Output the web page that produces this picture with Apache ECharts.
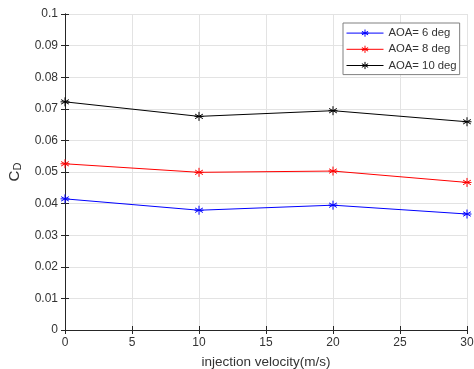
<!DOCTYPE html>
<html><head><meta charset="utf-8">
<script src="https://cdn.jsdelivr.net/npm/echarts@6/dist/echarts.min.js"></script>
<style>html,body{margin:0;padding:0;background:#fff}#c{width:474px;height:369px}</style>
</head><body><div id="c"></div>
<script>
const xValues = [0, 10, 20, 30];
const aoa6 = [0.0415, 0.0379, 0.0395, 0.0367];
const aoa8 = [0.0526, 0.0499, 0.0503, 0.0467];
const aoa10 = [0.0722, 0.0676, 0.0694, 0.0659];
const seriesNames = ['AOA= 6 deg', 'AOA= 8 deg', 'AOA= 10 deg'];
const seriesColors = ['#0000ff', '#ff0000', '#000000'];

const star = 'path://M5,0L5,10M0.7,2.5L9.3,7.5M0.7,7.5L9.3,2.5M0,5L10,5';
const font = 'Liberation Sans, Arial, sans-serif';
const txt = '#333333';

function mk(name, data, color) {
  return {
    name, type: 'line', data: xValues.map((x, i) => [x, data[i]]),
    symbol: star, symbolSize: 9,
    itemStyle: { color: 'none', borderColor: color, borderWidth: 1 },
    lineStyle: { color, width: 1 },
    emphasis: { disabled: true }, animation: false
  };
}

const chart = echarts.init(document.getElementById('c'));
chart.setOption({
  animation: false,
  grid: { left: 65, right: 7, top: 14, bottom: 39, outerBoundsMode: 'none', containLabel: false },
  legend: {
    data: seriesNames, orient: 'vertical', left: 343, top: 23,
    itemWidth: 37, itemHeight: 9, itemGap: 4,
    padding: [4, 3, 3, 3],
    lineStyle: { width: 1 },
    itemStyle: { borderWidth: 1 },
    borderColor: '#808080', borderWidth: 1, backgroundColor: '#fff',
    textStyle: { fontFamily: font, fontSize: 11.3, color: txt }
  },
  xAxis: [{
    type: 'value', min: 0, max: 30, interval: 5,
    name: 'injection velocity(m/s)', nameLocation: 'middle', nameGap: 25,
    nameTextStyle: { fontFamily: font, fontSize: 13.5, color: txt },
    axisLine: { onZero: false, lineStyle: { color: '#262626', width: 1 } },
    axisTick: { inside: true, length: 4, lineStyle: { color: '#262626' } },
    axisLabel: { fontFamily: font, fontSize: 12, color: txt, margin: 7 },
    splitLine: { show: true, lineStyle: { color: '#e3e3e3', width: 1 } }
  }, {
    type: 'value', min: 0, max: 30, interval: 5, position: 'top',
    axisLine: { show: true, lineStyle: { color: '#262626', width: 1 } },
    axisTick: { inside: true, length: 4, lineStyle: { color: '#262626' } },
    axisLabel: { show: false }, splitLine: { show: false }
  }],
  yAxis: [{
    type: 'value', min: 0, max: 0.1, interval: 0.01,
    name: 'C{sub|D}', nameLocation: 'middle', nameGap: 36, nameRotate: 90,
    nameTextStyle: { fontFamily: font, fontSize: 15, color: txt,
      rich: { sub: { fontFamily: font, fontSize: 11, color: txt, verticalAlign: 'bottom', padding: [7, 0, 0, 0] } } },
    axisLine: { show: true, onZero: false, lineStyle: { color: '#262626', width: 1 } },
    axisTick: { show: true, inside: true, length: 4, lineStyle: { color: '#262626' } },
    axisLabel: { fontFamily: font, fontSize: 12, color: txt, margin: 7,
      formatter: v => String(Math.round(v * 100) / 100) },
    splitLine: { show: true, lineStyle: { color: '#e3e3e3', width: 1 } }
  }, {
    type: 'value', min: 0, max: 0.1, interval: 0.01, position: 'right',
    axisLine: { show: true, lineStyle: { color: '#262626', width: 1 } },
    axisTick: { show: true, inside: true, length: 4, lineStyle: { color: '#262626' } },
    axisLabel: { show: false }, splitLine: { show: false }
  }],
  series: [
    mk(seriesNames[0], aoa6, seriesColors[0]),
    mk(seriesNames[1], aoa8, seriesColors[1]),
    mk(seriesNames[2], aoa10, seriesColors[2])
  ]
});
</script></body></html>
